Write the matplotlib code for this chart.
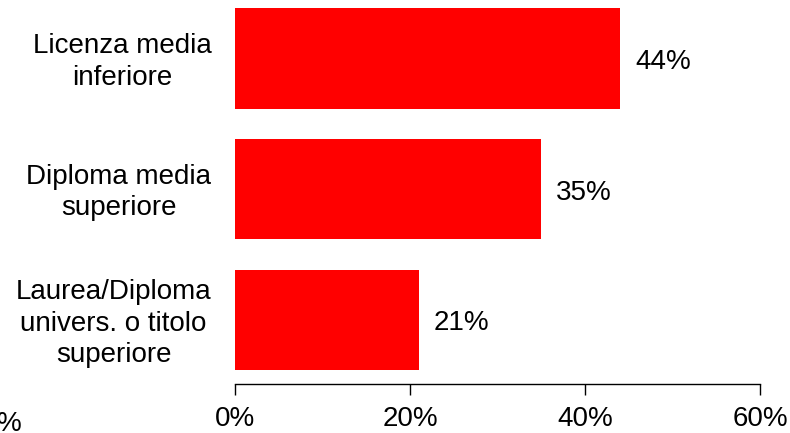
import matplotlib
matplotlib.use("Agg")
import matplotlib.pyplot as plt
import matplotlib.transforms as mtransforms
from matplotlib.ticker import FuncFormatter

categories = ["Licenza media\ninferiore", "Diploma media\nsuperiore", "Laurea/Diploma\nunivers. o titolo\nsuperiore"]
values = [44, 35, 21]
xticks = [0, 20, 40, 60]

plt.rcParams['font.family'] = ['Liberation Sans', 'DejaVu Sans']
W, H = 790, 433
FS = 20
fig = plt.figure(figsize=(W/100, H/100), dpi=100)
ax = fig.add_axes([235/W, (H-384)/H, (760-235)/W, 384/H])

n = len(categories)
pos = [n-1-i for i in range(n)]
ax.barh(pos, values, height=0.77, color='#ff0000')
for p, v in zip(pos, values):
    ax.annotate(f"{v}%", xy=(v, p), xytext=(15*0.72, -10.5*0.72), textcoords='offset points',
                va='baseline', ha='left', fontsize=FS)

ax.set_xlim(0, 60)
ax.set_ylim(-0.49, 2.445)
ax.set_xticks(xticks)
ax.xaxis.set_major_formatter(FuncFormatter(lambda x, _: f"{x:.0f}%"))
ax.set_yticks(pos)
ax.set_yticklabels(categories, fontsize=FS, multialignment='center', linespacing=1.27)
ax.tick_params(axis='y', length=0, pad=17)
ax.tick_params(axis='x', length=8, width=1, labelsize=FS, pad=8, colors='black')
shift = mtransforms.ScaledTranslation(0, 2/100, fig.dpi_scale_trans)
for lbl in ax.get_yticklabels():
    lbl.set_transform(lbl.get_transform() + shift)
for s in ['top', 'right', 'left']:
    ax.spines[s].set_visible(False)
ax.spines['bottom'].set_linewidth(1)
fig.text(-3/W, 1 - 411/H, "%", fontsize=FS, ha='left', va='top')
fig.savefig("out.png", dpi=100)
